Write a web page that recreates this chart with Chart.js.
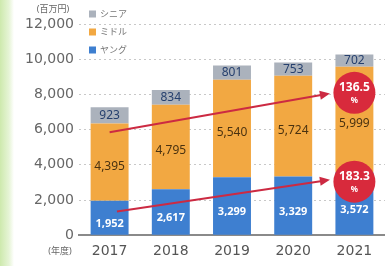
<!DOCTYPE html>
<html>
<head>
<meta charset="utf-8">
<script src="https://cdn.jsdelivr.net/npm/chart.js@4/dist/chart.umd.min.js"></script>
<style>
  html, body { margin: 0; padding: 0; }
  body { width: 385px; height: 266px; background: linear-gradient(to right, #cde9ad 0px, #e6f4d6 9px, #ffffff 14px); }
  #wrap { position: relative; width: 385px; height: 266px; }
</style>
</head>
<body>
<div id="wrap"><canvas id="myChart" width="385" height="266"></canvas></div>
<script>
// values in 百万円
const years = ['2017', '2018', '2019', '2020', '2021'];
const young = [1952, 2617, 3299, 3329, 3572];
const middle = [4395, 4795, 5540, 5724, 5999];
const senior = [923, 834, 801, 753, 702];
const yTicks = [0, 2000, 4000, 6000, 8000, 10000, 12000];
const seriesNames = ['ヤング', 'ミドル', 'シニア'];
const growth = ['136.5', '183.3'];

const colors = ['#3e7fd0', '#f2a842', '#abb2bc'];
const textColors = ['#ffffff', '#4a3210', '#26406e'];
const AX = '"DejaVu Sans", "Noto Sans CJK JP", sans-serif';
const JP = '"Noto Sans", "Noto Sans CJK JP", sans-serif';

// labels inside bar segments
const segLabels = {
  id: 'segLabels',
  afterDatasetsDraw(chart) {
    const ctx = chart.ctx;
    ctx.save();
    ctx.textAlign = 'center';
    ctx.textBaseline = 'middle';
    chart.data.datasets.forEach((ds, i) => {
      chart.getDatasetMeta(i).data.forEach((bar, j) => {
        let y = (bar.y + bar.base) / 2;
        if (i === 0) y += 6;
        if (i === 1) y += 4;
        ctx.font = (i === 0 ? 'bold 11px ' : '12px ') + JP;
        ctx.fillStyle = textColors[i];
        ctx.fillText(ds.data[j].toLocaleString('en-US'), bar.x, y);
      });
    });
    ctx.restore();
  }
};

// growth arrows and circles
const arrows = {
  id: 'arrows',
  afterDatasetsDraw(chart) {
    const ctx = chart.ctx;
    const x = chart.scales.x, y = chart.scales.y;
    const lines = [
      { from: [0, 5850], to: [3.6, 8050], circle: 8090, text: growth[0] },
      { from: [0.12, 1350], to: [3.6, 3150], circle: 3040, text: growth[1] }
    ];
    ctx.save();
    lines.forEach(l => {
      const x1 = x.getPixelForValue(l.from[0]), y1 = y.getPixelForValue(l.from[1]);
      const x2 = x.getPixelForValue(l.to[0]), y2 = y.getPixelForValue(l.to[1]);
      const a = Math.atan2(y2 - y1, x2 - x1);
      ctx.strokeStyle = '#cc2a42';
      ctx.fillStyle = '#cc2a42';
      ctx.lineWidth = 2;
      ctx.beginPath();
      ctx.moveTo(x1, y1);
      ctx.lineTo(x2 - 6 * Math.cos(a), y2 - 6 * Math.sin(a));
      ctx.stroke();
      ctx.beginPath();
      ctx.moveTo(x2, y2);
      ctx.lineTo(x2 - 11 * Math.cos(a - 0.42), y2 - 11 * Math.sin(a - 0.42));
      ctx.lineTo(x2 - 11 * Math.cos(a + 0.42), y2 - 11 * Math.sin(a + 0.42));
      ctx.closePath();
      ctx.fill();
      const cx = x.getPixelForValue(4), cy = y.getPixelForValue(l.circle);
      ctx.beginPath();
      ctx.arc(cx, cy, 21, 0, Math.PI * 2);
      ctx.fillStyle = '#d82a3c';
      ctx.fill();
      ctx.fillStyle = '#ffffff';
      ctx.textAlign = 'center';
      ctx.textBaseline = 'middle';
      ctx.font = 'bold 12px ' + JP;
      ctx.fillText(l.text, cx, cy - 5);
      ctx.font = 'bold 8px ' + JP;
      ctx.fillText('%', cx, cy + 8);
    });
    ctx.restore();
  }
};

// unit labels and vertical legend
const extras = {
  id: 'extras',
  afterDraw(chart) {
    const ctx = chart.ctx;
    ctx.save();
    ctx.fillStyle = '#666';
    ctx.font = '9px ' + JP;
    ctx.textAlign = 'center';
    ctx.textBaseline = 'middle';
    ctx.fillText('(百万円)', 53, 9);
    ctx.fillText('(年度)', 60, 251);
    const lx = 89;
    [2, 1, 0].forEach((k, i) => {
      const yy = 14 + i * 18;
      ctx.fillStyle = colors[k];
      ctx.fillRect(lx, yy - 3.5, 7, 7);
      ctx.fillStyle = '#777';
      ctx.textAlign = 'left';
      ctx.font = '9px ' + JP;
      ctx.fillText(seriesNames[k], lx + 11, yy);
    });
    ctx.restore();
  }
};

new Chart(document.getElementById('myChart').getContext('2d'), {
  type: 'bar',
  data: {
    labels: years,
    datasets: [
      { label: seriesNames[0], data: young, backgroundColor: colors[0] },
      { label: seriesNames[1], data: middle, backgroundColor: colors[1] },
      { label: seriesNames[2], data: senior, backgroundColor: colors[2] }
    ]
  },
  options: {
    responsive: false,
    animation: false,
    layout: { padding: { top: 24, right: 0, left: 0, bottom: 6 } },
    datasets: { bar: { barPercentage: 0.62, categoryPercentage: 1.0 } },
    plugins: { legend: { display: false }, tooltip: { enabled: false } },
    scales: {
      x: {
        stacked: true,
        grid: { display: false },
        border: { color: '#8a8a8a', width: 2 },
        ticks: { color: '#555', font: { size: 14, family: AX }, padding: 0 }
      },
      y: {
        stacked: true,
        min: 0,
        max: 12000,
        afterFit(s) { s.width = 79; },
        afterBuildTicks(s) { s.ticks = yTicks.map(v => ({ value: v })); },
        grid: { color: '#c8c8c8', drawTicks: false },
        border: { display: false, dash: [2, 3] },
        ticks: {
          color: '#666',
          padding: 5,
          font: { size: 14, family: AX },
          callback: v => v.toLocaleString('en-US')
        }
      }
    }
  },
  plugins: [segLabels, arrows, extras]
});
</script>
</body>
</html>
